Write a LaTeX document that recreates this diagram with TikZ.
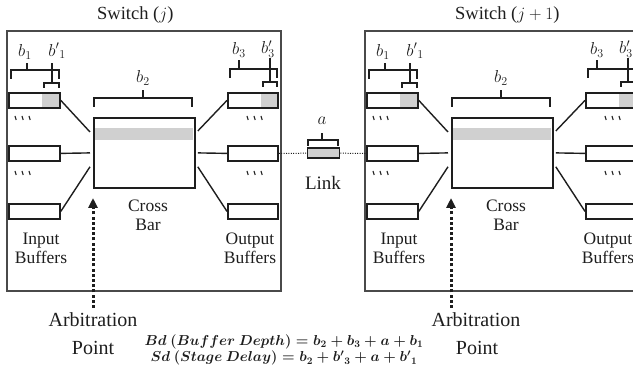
\documentclass[tikz,border=0pt]{standalone}
\usepackage{fontspec}
\setmainfont{Liberation Serif}
\usetikzlibrary{arrows.meta,calc}
\definecolor{boxgray}{HTML}{4A4A4A}
\definecolor{ink}{HTML}{1E1E1E}
\definecolor{lightfill}{HTML}{D0D0D0}
\begin{document}
\begin{tikzpicture}[x=1pt,y=-1pt,
  switchbox/.style={draw=boxgray,line width=1.4pt},
  buf/.style={draw=ink,line width=1.8pt,minimum width=51pt,minimum height=15pt,inner sep=0pt,anchor=north west},
  xbar/.style={draw=ink,line width=1.8pt,minimum width=101pt,minimum height=70pt,inner sep=0pt,anchor=north west},
  wire/.style={draw=ink,line width=1.4pt},
  brk/.style={draw=ink,line width=1.6pt},
  tickmark/.style={draw=ink,line width=1.1pt},
  lbl/.style={font=\fontsize{17.5}{19}\selectfont,align=center,inner sep=0pt,text=ink},
  mlbl/.style={font=\fontsize{18.5}{20}\selectfont,inner sep=0pt,text=ink},
  arb/.style={font=\fontsize{20}{22}\selectfont,inner sep=0pt,text=ink},
  eqtext/.style={font=\fontsize{14.7}{16.5}\selectfont\boldmath,inner sep=0pt,text=ink,align=center},
  arbarrow/.style={draw=ink,line width=3pt,dash pattern=on 3pt off 2.2pt,-{Triangle[width=9pt,length=10pt]}},
  linkwire/.style={draw=ink,line width=1pt,dash pattern=on 1pt off 1.4pt}]
\useasboundingbox (0,0) rectangle (633,371);
\clip (0,0) rectangle (633,371);
\foreach \s/\dx in {L/0,R/358}{
\begin{scope}[xshift=\dx pt]
  \draw[switchbox] (7,31) rectangle (281,291);
  % shading
  \fill[lightfill] (42,92) rectangle (59,107);
  \fill[lightfill] (261,92) rectangle (277,107);
  \fill[lightfill] (94,128) rectangle (193,140);
  % buffers
  \node[buf] (\s-in1) at (8,92) {};
  \node[buf] (\s-in2) at (8,145) {};
  \node[buf] (\s-in3) at (8,203) {};
  \node[buf,minimum width=50pt] (\s-out1) at (227,92) {};
  \node[buf,minimum width=50pt] (\s-out2) at (227,145) {};
  \node[buf,minimum width=50pt] (\s-out3) at (227,203) {};
  \node[xbar] (\s-cb) at (93,117) {};
  % wires
  \draw[wire] (\s-in1.east) -- ([xshift=-3pt,yshift=-15pt]\s-cb.north west);
  \draw[wire] (\s-in2.east) -- ([xshift=-3pt]\s-cb.west);
  \draw[wire] (\s-in3.east) -- ([xshift=-3pt,yshift=22pt]\s-cb.south west);
  \draw[wire] (\s-out1.west) -- ([xshift=2pt,yshift=-14pt]\s-cb.north east);
  \draw[wire] (\s-out2.west) -- ([xshift=2pt]\s-cb.east);
  \draw[wire] (\s-out3.west) -- ([xshift=2pt,yshift=22pt]\s-cb.south east);
  % ellipsis ticks
  \foreach \tx/\ty in {15/118,15/173,247/118,247/173}{
    \foreach \i in {0,1,2}{
      \draw[tickmark] ({\tx+7*\i},{\ty-2}) -- ({\tx+7*\i+1.2},{\ty+2});
    }
  }
  % brackets b1, b1'
  \draw[brk] (11,79) -- (11,70) -- (59,70) -- (59,79);
  \draw[brk] (27,70) -- (27,63);
  \draw[brk] (44,88) -- (44,83) -- (59,83) -- (59,88);
  \draw[brk] (52,83) -- (52,63);
  \node[mlbl] (\s-b1) at (25,52) {$b_1$};
  \node[mlbl] (\s-b1p) at (57,51) {${b'}_1$};
  % brackets b3, b3'
  \draw[brk] (230,78) -- (230,69) -- (277,69) -- (277,78);
  \draw[brk] (239,69) -- (239,60);
  \draw[brk] (263,87) -- (263,82) -- (277,82) -- (277,87);
  \draw[brk] (270,82) -- (270,58);
  \node[mlbl] (\s-b3) at (239,50) {$b_3$};
  \node[mlbl] (\s-b3p) at (268,49) {$b'_3$};
  % bracket b2
  \draw[brk] (94,107) -- (94,98) -- (192,98) -- (192,107);
  \draw[brk] (143,98) -- (143,90);
  \node[mlbl] (\s-b2) at (143,78) {$b_2$};
  % labels
  \node[lbl] (\s-cross) at (148,215) {Cross\\Bar};
  \node[lbl] (\s-inlbl) at (41,248) {Input\\Buffers};
  \node[lbl] (\s-outlbl) at (250,248) {Output\\Buffers};
  % arbitration arrow
  \coordinate (\s-tip) at (93,198);
  \coordinate (\s-tail) at (93,308);
  \draw[arbarrow] (\s-tail) -- (\s-tip);
\end{scope}
}
\node[lbl,font=\fontsize{18.5}{20}\selectfont,anchor=west] (t1) at (97,15) {Switch ($j$)};
\node[lbl,font=\fontsize{18.5}{20}\selectfont,anchor=west] (t2) at (455,15) {Switch ($j+1$)};
% link
\node[draw=ink,line width=1.4pt,fill=lightfill,minimum width=32pt,minimum height=10pt,inner sep=0pt,anchor=north west] (link) at (307,147.5) {};
\draw[linkwire] (L-out2.east) -- (link.west);
\draw[linkwire] (link.east) -- (R-in2.west);
\draw[brk] (308,146) -- (308,140) -- (338,140) -- (338,146);
\draw[brk] (322,140) -- (322,133);
\node[mlbl] (a) at (322,121) {$a$};
\node[lbl,font=\fontsize{19}{20}\selectfont] (linklbl) at (323,183) {Link};
% arbitration labels
\node[arb] (arbL) at (93,320) {Arbitration};
\node[arb] (ptL) at (93,348) {Point};
\node[arb] (arbR) at (476,320) {Arbitration};
\node[arb] (ptR) at (477,348) {Point};
% equations
\node[eqtext] (eq) at (284,350)
 {$Bd\ (Buffer\ Depth) = b_2+b_3+a+b_1$\\
  $Sd\ (Stage\ Delay) = b_2+{b'}_3+a+{b'}_1$};
\end{tikzpicture}
\end{document}
